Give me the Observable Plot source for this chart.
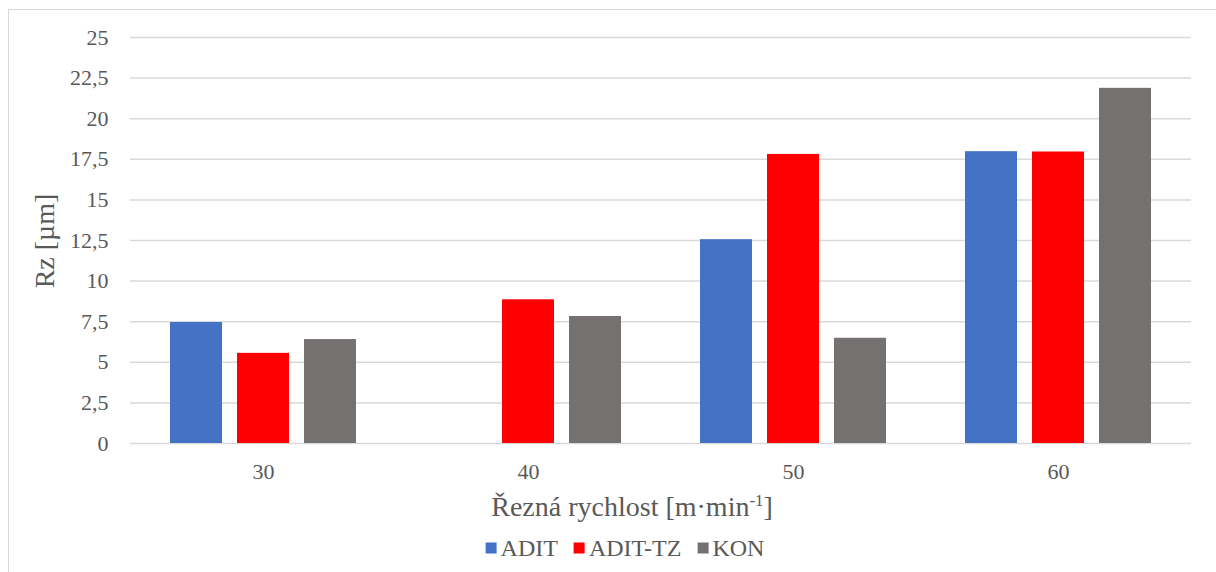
<!DOCTYPE html>
<html><head><meta charset="utf-8">
<script src="https://cdn.jsdelivr.net/npm/d3@7"></script>
<script src="https://cdn.jsdelivr.net/npm/@observablehq/plot@0.6"></script>
<style>
body{margin:0;background:#fff;font-family:"Liberation Serif",serif;}
#wrap{position:relative;width:1216px;height:572px;overflow:hidden;background:#fff;}
#frame{position:absolute;left:8px;top:9px;width:1210px;height:600px;border-left:1.5px solid #d9d9d9;border-top:1.5px solid #d9d9d9;box-sizing:border-box;}
.layer{position:absolute;left:0;top:0;}
svg, svg text{font-family:"Liberation Serif",serif !important;}
#ylabel{position:absolute;left:45px;top:241px;transform:translate(-50%,-50%) rotate(-90deg);font-size:28px;color:#595959;white-space:nowrap;font-family:"Liberation Serif",serif;}
#xlabel{position:absolute;left:632px;top:507px;transform:translate(-50%,-50%);font-size:28px;color:#595959;white-space:nowrap;font-family:"Liberation Serif",serif;}
#legend{position:absolute;left:625px;top:548px;transform:translate(-50%,-50%);font-size:24px;color:#595959;white-space:nowrap;display:flex;gap:16px;align-items:center;font-family:"Liberation Serif",serif;}
#legend span.item{display:flex;align-items:center;gap:4px;}
#legend span.sw{display:inline-block;width:11px;height:11px;}
</style>
</head><body>
<div id="wrap">
  <div id="frame"></div>
  <div id="grid" class="layer"></div>
  <div id="chart" class="layer"></div>
  <div id="ylabel">Rz [µm]</div>
  <div id="xlabel">Řezná rychlost [m·min<sup style="font-size:0.6em;vertical-align:0.6em;line-height:0">-1</sup>]</div>
  <div id="legend"></div>
</div>
<script>
const speeds = ["30", "40", "50", "60"];
const seriesNames = ["ADIT", "ADIT-TZ", "KON"];
const aditValues = [7.45, 0, 12.55, 17.97];
const aditTzValues = [5.55, 8.85, 17.8, 17.95];
const konValues = [6.4, 7.82, 6.48, 21.87];
const seriesColors = ["#4472C4", "#FF0000", "#767171"];
const yTicks = [0, 2.5, 5, 7.5, 10, 12.5, 15, 17.5, 20, 22.5, 25];

const valueLists = [aditValues, aditTzValues, konValues];
const data = [];
speeds.forEach((s, i) => {
  seriesNames.forEach((n, j) => {
    data.push({speed: s, series: n, value: valueLists[j][i]});
  });
});

const fmt = d => String(d).replace(".", ",");
const common = {
  width: 1216,
  height: 530,
  marginLeft: 130,
  marginRight: 25,
  marginTop: 37,
  marginBottom: 87,
  style: {fontFamily: "Liberation Serif", fontSize: "22px", color: "#595959", background: "transparent"}
};

// Layer 1: y axis and gridlines spanning the full plot width
const grid = Plot.plot({
  ...common,
  x: {axis: null},
  y: {domain: [0, 25], ticks: yTicks, tickFormat: fmt, tickSize: 0, tickPadding: 22, label: null},
  marks: [
    Plot.ruleY(yTicks, {stroke: "#d9d9d9", strokeWidth: 1.5})
  ]
});
document.getElementById("grid").appendChild(grid);

// Layer 2: grouped bars
const chart = Plot.plot({
  ...common,
  fx: {domain: speeds, paddingInner: 0.3, paddingOuter: 0.15, label: null, axis: "bottom", tickSize: 0, tickPadding: 20},
  x: {domain: seriesNames, paddingInner: 0.224, paddingOuter: 0, axis: null},
  y: {domain: [0, 25], axis: null},
  color: {domain: seriesNames, range: seriesColors},
  marks: [
    Plot.barY(data, {fx: "speed", x: "series", y: "value", fill: "series"})
  ]
});
document.getElementById("chart").appendChild(chart);

const legend = document.getElementById("legend");
seriesNames.forEach((n, i) => {
  const item = document.createElement("span");
  item.className = "item";
  const sw = document.createElement("span");
  sw.className = "sw";
  sw.style.background = seriesColors[i];
  item.appendChild(sw);
  item.appendChild(document.createTextNode(n));
  legend.appendChild(item);
});
</script>
</body></html>
